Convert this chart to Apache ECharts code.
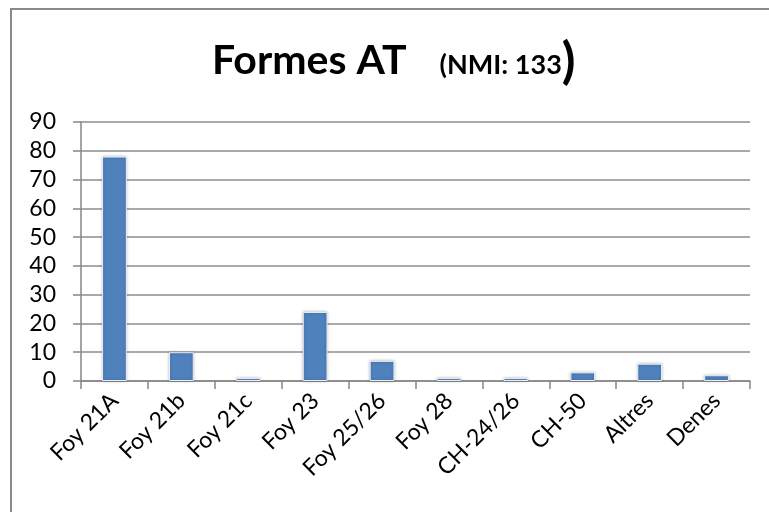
<!DOCTYPE html>
<html>
<head>
<meta charset="utf-8">
<script src="https://cdn.jsdelivr.net/npm/echarts@6/dist/echarts.min.js"></script>
<style>
  html, body { margin: 0; padding: 0; background: #fff; }
  #chart { width: 769px; height: 512px; }
</style>
</head>
<body>
<div id="chart"></div>
<script>
// formes AT, recompte per tipus
const categories = ['Foy 21A', 'Foy 21b', 'Foy 21c', 'Foy 23', 'Foy 25/26', 'Foy 28', 'CH-24/26', 'CH-50', 'Altres', 'Denes'];
const counts = [78, 10, 1, 24, 7, 1, 1, 3, 6, 2];
const yTicks = { min: 0, max: 90, interval: 10 };

const FONT = 'Lato, "Open Sans", sans-serif';
const chart = echarts.init(document.getElementById('chart'));

chart.setOption({
  animation: false,
  backgroundColor: '#fff',
  textStyle: { fontFamily: FONT },
  title: {
    left: 207,
    top: 32,
    text: '{a|Formes AT}{s|}{b|(NMI: 133}{c|)}',
    textStyle: {
      rich: {
        a: { fontFamily: FONT, fontSize: 41, fontWeight: 'bold', color: '#000', verticalAlign: 'bottom' },
        s: { fontFamily: FONT, fontSize: 41, width: 33 },
        b: { fontFamily: FONT, fontSize: 27, fontWeight: 'bold', color: '#000', verticalAlign: 'bottom', padding: [0, 0, 2, 0] },
        c: { fontFamily: FONT, fontSize: 50, fontWeight: 'bold', color: '#000', verticalAlign: 'bottom', padding: [0, 0, -6, 0] },
      },
    },
  },
  graphic: [
    {
      type: 'rect',
      shape: { x: 11, y: 9, width: 800, height: 600 },
      style: { fill: 'none', stroke: '#8a8a8a', lineWidth: 2 },
      silent: true,
    },
  ],
  grid: { left: 81, right: 19, top: 122, bottom: 131 },
  xAxis: {
    type: 'category',
    data: categories,
    axisLine: { lineStyle: { color: '#868686', width: 1.5 } },
    axisTick: { show: true, length: 8, lineStyle: { color: '#868686', width: 1.5 } },
    axisLabel: { rotate: 45, fontSize: 23, color: '#000', margin: 16, interval: 0, fontFamily: FONT },
  },
  yAxis: {
    type: 'value',
    min: yTicks.min,
    max: yTicks.max,
    interval: yTicks.interval,
    axisLine: { show: true, lineStyle: { color: '#868686', width: 1.5 } },
    axisTick: { show: true, length: 8, lineStyle: { color: '#868686', width: 1.5 } },
    axisLabel: { fontSize: 23, color: '#000', margin: 25, fontFamily: FONT },
    splitLine: { lineStyle: { color: '#8c8c8c', width: 1.5 } },
  },
  series: [
    {
      type: 'bar',
      data: counts,
      barWidth: '37%',
      itemStyle: {
        color: '#4f81bd',
        borderColor: '#e8eef7',
        borderWidth: 1,
        shadowColor: 'rgba(0,0,0,0.25)',
        shadowBlur: 3,
      },
    },
  ],
});
</script>
</body>
</html>
